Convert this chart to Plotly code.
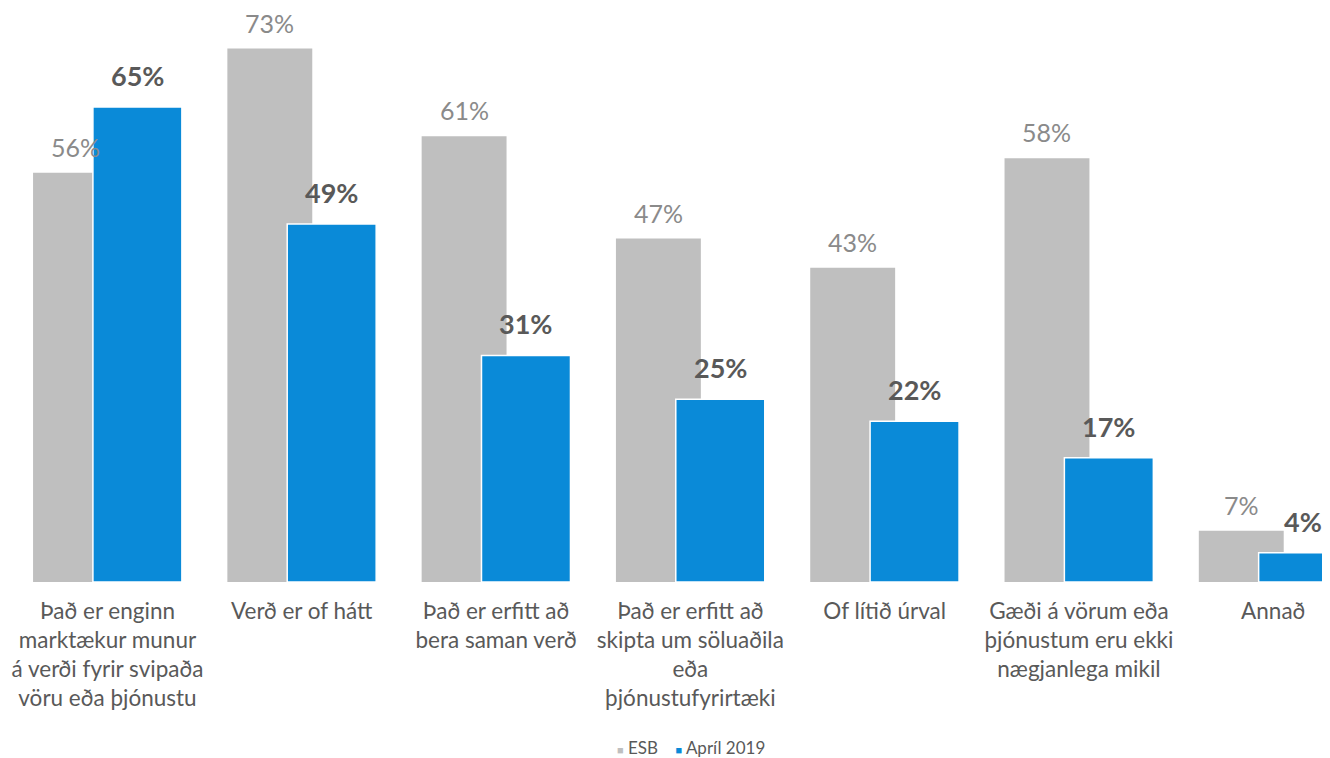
import plotly.graph_objects as go

categories = [
    "Það er enginn<br>marktækur munur<br>á verði fyrir svipaða<br>vöru eða þjónustu",
    "Verð er of hátt",
    "Það er erfitt að<br>bera saman verð",
    "Það er erfitt að<br>skipta um söluaðila<br>eða<br>þjónustufyrirtæki",
    "Of lítið úrval",
    "Gæði á vörum eða<br>þjónustum eru ekki<br>nægjanlega mikil",
    "Annað",
]
esb = [0.56, 0.73, 0.61, 0.47, 0.43, 0.58, 0.07]
april = [0.65, 0.49, 0.31, 0.25, 0.22, 0.17, 0.04]
series_names = ["ESB", "Apríl 2019"]

GRAY = "#BFBFBF"
BLUE = "#0A8AD8"
FONT = "Lato"

x = list(range(len(categories)))
g_off, g_w = -0.383, 0.437
b_off, b_w = -0.075, 0.458

fig = go.Figure()
fig.add_trace(go.Bar(x=x, y=esb, name=series_names[0], offset=g_off, width=g_w,
                     marker=dict(color=GRAY, line=dict(width=0)), showlegend=False))
fig.add_trace(go.Bar(x=x, y=april, name=series_names[1], offset=b_off, width=b_w,
                     marker=dict(color=BLUE, line=dict(color="white", width=1.5)), showlegend=False))

annotations = []
for i, v in zip(x, esb):
    annotations.append(dict(x=i + g_off + g_w / 2, y=v, xref="x", yref="y",
                            text=f"{round(v*100)}%", showarrow=False, yanchor="bottom",
                            yshift=10, borderpad=0,
                            font=dict(family=FONT, size=25, color="#8A8A8A")))
for i, v in zip(x, april):
    annotations.append(dict(x=i + b_off + b_w / 2, y=v, xref="x", yref="y",
                            text=f"<b>{round(v*100)}%</b>", showarrow=False, yanchor="bottom",
                            yshift=13, font=dict(family=FONT, size=27, color="#595959")))

legend_text = (f'<span style="font-size:11px;color:{GRAY}">■</span> {series_names[0]}'
               f'&#160;&#160;&#160;&#160;'
               f'<span style="font-size:11px;color:{BLUE}">■</span> {series_names[1]}')
annotations.append(dict(x=0.520, y=-0.2895, xref="paper", yref="paper", text=legend_text,
                        showarrow=False, xanchor="center", yanchor="middle",
                        font=dict(family=FONT, size=17, color="#595959")))

fig.update_layout(
    width=1314, height=750,
    margin=dict(l=0, r=0, t=4, b=176),
    barmode="overlay",
    plot_bgcolor="white", paper_bgcolor="white",
    font=dict(family=FONT, color="#595959"),
    showlegend=False,
    annotations=annotations,
    xaxis=dict(range=[-0.512, 6.251], tickvals=x, ticktext=categories,
               tickfont=dict(family=FONT, size=22.5, color="#595959"), showgrid=False,
               zeroline=False, showline=False, ticks="", ticklabelstandoff=13),
    yaxis=dict(range=[0, 0.78], visible=False, showgrid=False, zeroline=False),
)
fig.write_html("out.html")
